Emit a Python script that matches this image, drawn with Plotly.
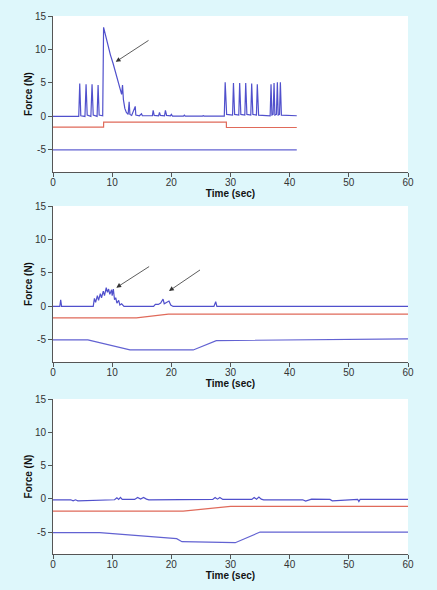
import plotly.graph_objects as go

# ---------------- data ----------------
# Panel 1
p1_force_t = [0, 4.35, 4.52, 4.7, 5.4, 5.59, 5.78, 6.4, 6.6, 6.8, 7.45, 7.62, 7.8, 8.4,
              8.55, 9.0, 9.3, 9.7, 10.16, 10.6, 11.0, 11.4, 11.6, 11.75, 11.9, 12.14, 12.4,
              12.7, 12.87, 13.0, 13.3, 13.9, 14.0, 14.6, 14.96, 15.1, 16.8, 16.93, 17.1,
              17.85, 18.0, 18.15, 18.85, 19.0, 19.2, 19.85, 20.0, 20.2, 22.05, 22.2, 22.35,
              25.25, 25.4, 25.55, 28.95, 29.1, 29.35, 30.35, 30.5, 30.7, 31.4, 31.55, 31.75,
              32.42, 32.57, 32.77, 33.43, 33.58, 33.78, 34.38, 34.53, 34.75, 36.7, 36.85,
              37.0, 37.2, 37.36, 37.5, 37.76, 37.92, 38.06, 38.28, 38.43, 38.6, 41.2]
p1_force_v = [0, 0, 4.9, 0.1, 0, 4.8, 0.2, 0, 4.8, 0.2, 0, 4.7, 0.2, 0.1,
              13.3, 11.6, 10.4, 9.2, 7.9, 6.5, 5.2, 3.8, 3.3, 4.7, 2.5, 1.2, 0.6,
              0.3, 2.2, 0.3, 0.15, 1.5, 0.2, 0.1, 0.4, 0.1, 0.1, 0.9, 0.15,
              0.1, 0.6, 0.15, 0.1, 0.9, 0.15, 0.1, 0.3, 0.05, 0.05, 0.2, 0.05,
              0.05, 0.12, 0.05, 0.05, 5.1, 0.3, 0.2, 5.0, 0.3, 0.2, 5.0, 0.3,
              0.2, 5.0, 0.3, 0.2, 4.9, 0.3, 0.2, 4.8, 0.2, 0.1, 4.8,
              0.2, 0.3, 5.0, 0.2, 0.3, 5.1, 0.2, 0.3, 5.1, 0.2, 0.1]
p1_red_t = [0, 8.55, 8.56, 29.3, 29.31, 41.2]
p1_red_v = [-1.6, -1.6, -0.85, -0.85, -1.65, -1.65]
p1_low_t = [0, 41.2]
p1_low_v = [-5.0, -5.0]

# Panel 2
p2_force_t = [0, 1.15, 1.3, 1.45, 6.8, 7.0, 7.2, 7.5, 7.7, 8.0, 8.2, 8.5, 8.7, 9.0, 9.2,
              9.4, 9.6, 9.9, 10.0, 10.2, 10.4, 10.6, 10.8, 11.1, 11.3, 11.6, 12.0, 17.0,
              17.3, 17.8, 18.2, 18.6, 18.8, 19.2, 19.6, 19.9, 20.3, 27.2, 27.5, 27.7, 60]
p2_force_v = [0, 0, 1.0, 0, 0, 1.2, 0.6, 1.6, 0.9, 1.9, 1.3, 2.3, 1.6, 2.8, 2.1,
              2.6, 1.8, 2.5, 1.6, 2.6, 1.0, 1.3, 0.5, 0.9, 0.2, 0.4, 0.0, 0.0,
              0.3, 0.3, 0.5, 1.1, 0.4, 0.6, 0.8, 0.2, 0.0, 0.0, 0.7, 0.0, 0.0]
p2_red_t = [0, 14.1, 19.5, 60]
p2_red_v = [-1.7, -1.7, -1.15, -1.15]
p2_low_t = [0, 5.9, 13.0, 23.7, 27.6, 60]
p2_low_v = [-5.0, -5.0, -6.5, -6.5, -5.1, -4.85]

# Panel 3
p3_force_t = [0, 3.0, 3.4, 3.8, 4.2, 10.4, 10.8, 11.1, 11.4, 11.7, 13.8, 14.3, 14.8,
              15.3, 15.8, 16.2, 27.0, 27.4, 27.8, 28.2, 28.7, 33.6, 34.0, 34.4, 34.8,
              35.2, 35.6, 42.2, 42.7, 43.2, 43.7, 46.8, 47.2, 51.5, 51.7, 51.9, 60]
p3_force_v = [-0.15, -0.15, -0.3, -0.15, -0.3, -0.15, 0.15, -0.1, 0.2, -0.1, -0.1, 0.2, -0.05,
              0.2, -0.05, -0.15, -0.1, 0.2, -0.05, 0.2, -0.1, -0.1, 0.2, -0.05, 0.25,
              -0.05, -0.15, -0.15, -0.35, -0.25, -0.05, -0.1, -0.3, -0.1, -0.4, -0.1, -0.1]
p3_red_t = [0, 22.0, 30.0, 60]
p3_red_v = [-1.85, -1.85, -1.15, -1.15]
p3_low_t = [0, 7.9, 20.9, 21.8, 30.8, 35.0, 60]
p3_low_v = [-5.1, -5.1, -6.0, -6.45, -6.6, -5.0, -5.0]

x_ticks = [0, 10, 20, 30, 40, 50, 60]
y_ticks = [-5, 0, 5, 10, 15]
y_tick_labels = ["-5", "0", "5", "10", "15"]

BLUE = "#5050cc"
RED = "#e06a5a"
LOW = "#6262d2"
BG = "#def7fb"

fig = go.Figure()
panels = [
    (p1_force_t, p1_force_v, p1_red_t, p1_red_v, p1_low_t, p1_low_v),
    (p2_force_t, p2_force_v, p2_red_t, p2_red_v, p2_low_t, p2_low_v),
    (p3_force_t, p3_force_v, p3_red_t, p3_red_v, p3_low_t, p3_low_v),
]
for i, (ft, fv, rt, rv, lt, lv) in enumerate(panels):
    xa = "x" if i == 0 else f"x{i+1}"
    ya = "y" if i == 0 else f"y{i+1}"
    fig.add_trace(go.Scatter(x=ft, y=fv, mode="lines", line=dict(color=BLUE, width=1.2),
                             xaxis=xa, yaxis=ya, showlegend=False))
    fig.add_trace(go.Scatter(x=rt, y=rv, mode="lines", line=dict(color=RED, width=1.2),
                             xaxis=xa, yaxis=ya, showlegend=False))
    fig.add_trace(go.Scatter(x=lt, y=lv, mode="lines", line=dict(color=LOW, width=1.2),
                             xaxis=xa, yaxis=ya, showlegend=False))

H = 538.0
domains = [(1 - 156 / H, 1.0), (1 - 346 / H, 1 - 190 / H), (0.0, 1 - 383 / H)]

axis_common = dict(showline=True, linecolor="#555", linewidth=1, ticks="outside", ticklen=4,
                   tickcolor="#555", showgrid=False, zeroline=False, automargin=False,
                   tickfont=dict(family="Liberation Sans, Arial", size=10, color="#333"))
layout = {}
for i, dom in enumerate(domains):
    sx = "" if i == 0 else str(i + 1)
    layout[f"xaxis{sx}"] = dict(axis_common, domain=[0, 1], range=[0, 60], tickvals=x_ticks,
                                anchor=f"y{sx}", ticklabelstandoff=-3,
                                title=dict(text="<b>Time (sec)</b>", standoff=0,
                                           font=dict(family="Liberation Sans, Arial", size=10, color="#111")))
    layout[f"yaxis{sx}"] = dict(axis_common, domain=list(dom), range=[-8.3, 15], tickvals=y_ticks,
                                ticktext=y_tick_labels, anchor=f"x{sx}",
                                title=dict(text="<b>Force (N)</b>", standoff=0,
                                           font=dict(family="Liberation Sans, Arial", size=10, color="#111")))

arrows = [
    ("x", "y", 16.4, 11.5, 10.6, 8.15),
    ("x2", "y2", 16.5, 6.1, 10.7, 2.8),
    ("x2", "y2", 25.1, 5.6, 19.6, 2.3),
]
annotations = []
for xr, yr, tx, ty, hx, hy in arrows:
    annotations.append(dict(x=hx, y=hy, ax=tx, ay=ty, xref=xr, yref=yr, axref=xr, ayref=yr,
                            text="", showarrow=True, arrowhead=2, arrowsize=1.2,
                            arrowwidth=0.8, arrowcolor="#333"))

fig.update_layout(
    width=437, height=590,
    margin=dict(l=53, r=29, t=16, b=36),
    paper_bgcolor=BG, plot_bgcolor="#ffffff",
    annotations=annotations,
    **layout,
)
fig.write_html(
    "out.html",
    config={"displayModeBar": False},
    post_script="document.body.style.margin='0px';document.body.style.background='" + BG + "';"
                "document.body.style.overflow='hidden';",
)
